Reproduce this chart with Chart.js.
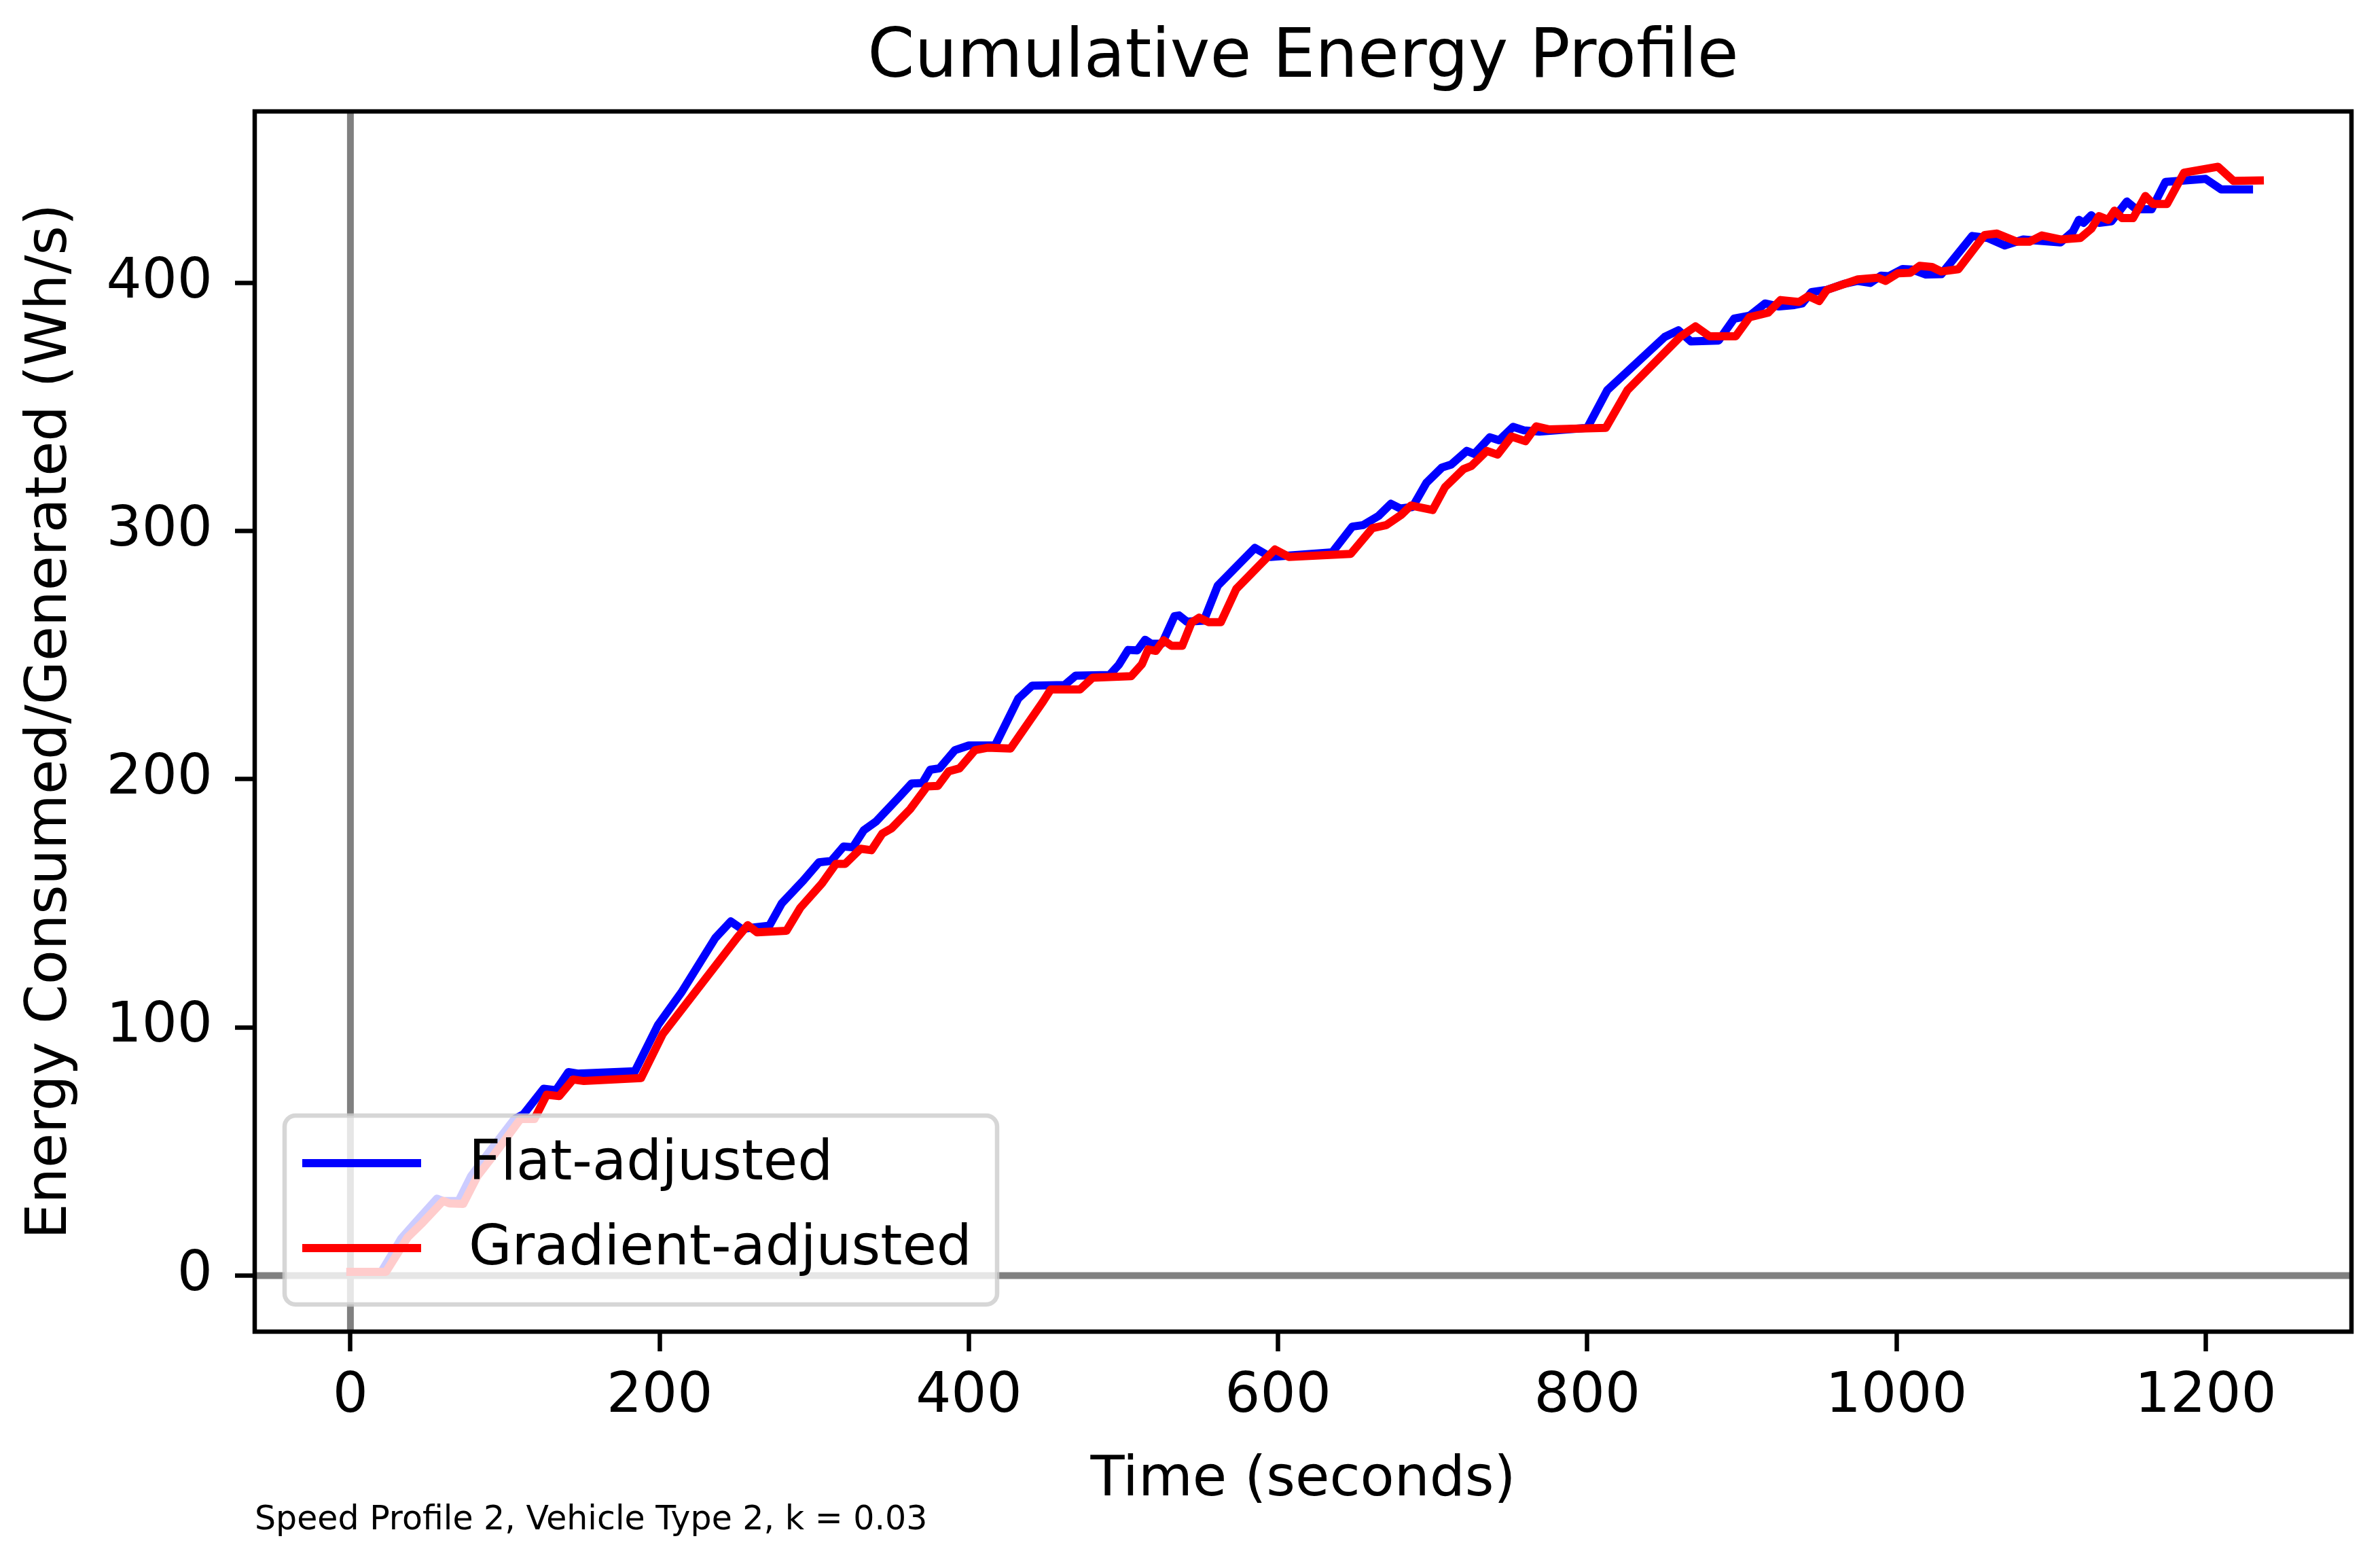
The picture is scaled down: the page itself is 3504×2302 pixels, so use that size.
<!DOCTYPE html>
<html>
<head>
<meta charset="utf-8">
<title>Cumulative Energy Profile</title>
<script src="https://cdn.jsdelivr.net/npm/chart.js@4.4.1/dist/chart.umd.min.js"></script>
<style>
  html, body { margin: 0; padding: 0; background: #fff; }
  canvas { display: block; }
</style>
</head>
<body>
<canvas id="chart" width="3504" height="2302"></canvas>
<script>
// values
const flatTime = [0, 20, 33, 43, 56, 60, 70, 78, 90, 106, 112, 125, 133, 141, 147, 184, 199, 214, 236, 246,
  253, 271, 279, 293, 303, 311, 319, 325, 332, 340, 354, 363, 370, 375, 381, 391, 400, 417, 432, 441,
  462, 469, 491, 497, 503, 509, 514, 518, 525, 533, 536, 541, 552, 561, 585, 595, 635, 648, 655, 665,
  673, 679, 687, 696, 706, 712, 722, 727, 737, 743, 752, 759, 769, 800, 813, 850, 859, 867, 885, 895,
  905, 915, 924, 934, 939, 945, 955, 966, 975, 983, 990, 995, 1004, 1010, 1019, 1029, 1049, 1059, 1070, 1082,
  1106, 1114, 1118, 1121, 1126, 1131, 1139, 1149, 1155, 1165, 1174, 1200, 1210, 1228];
const flatEnergy = [1.5, 1.5, 15, 22, 31, 30, 30, 40, 50, 63, 65, 75.3, 74.7, 82, 81.4, 82.3, 101, 114, 136, 142.7,
  139.7, 141, 150, 159.2, 166.5, 167.1, 172.9, 172.6, 179.4, 183, 192.2, 198.3, 198.5, 203.8, 204.4, 211.7, 213.6, 213.6, 232.5, 237.7,
  238, 241.7, 242, 246.1, 252.1, 251.9, 256.2, 254.6, 254.7, 265.7, 266, 263.5, 263.9, 278, 293.2, 289.6, 291.4, 301.8, 302.4, 306.1,
  311, 309.1, 309.7, 319.5, 325.6, 326.8, 332.3, 331.1, 337.8, 336.6, 342, 340.6, 340.1, 341.6, 356.8, 378.2, 380.9, 376.4, 376.8, 385.6,
  386.8, 391.7, 390.5, 391.1, 391.7, 396.3, 397.2, 399.6, 400.8, 400, 402.9, 402.7, 405.6, 405.4, 403.4, 403.5, 418.9, 418.1, 415.1, 417.5,
  416.3, 420.6, 425.4, 424.2, 427.3, 424.2, 424.8, 432.8, 429.7, 429.7, 440.7, 441.9, 437.7, 437.7];

const gradTime = [0, 23, 37, 47, 60, 64, 73, 82, 94, 110, 119, 127, 135, 144, 151, 188, 202, 250, 257, 263,
  282, 291, 305, 314, 320, 330, 337, 344, 350, 362, 373, 380, 387, 394, 404, 412, 427, 448, 453, 472,
  480, 505, 512, 516, 521, 526, 531, 538, 544, 549, 555, 563, 573, 598, 607, 647, 661, 670, 680, 686,
  700, 708, 720, 725, 735, 742, 751, 760, 767, 775, 812, 826, 860, 870, 879, 896, 905, 917, 925, 937,
  943, 950, 955, 975, 988, 993, 1001, 1009, 1015, 1023, 1029, 1040, 1057, 1065, 1078, 1086, 1094, 1106, 1119, 1126,
  1131, 1137, 1141, 1146, 1153, 1161, 1166, 1175, 1186, 1208, 1218, 1235];
const gradEnergy = [1.5, 1.5, 15.4, 21.5, 30.1, 29.1, 28.9, 39.9, 49.6, 63.1, 63.1, 72.9, 72.3, 79, 78.4, 79.6, 97.3, 136, 141.2, 138.3,
  138.9, 148.2, 158, 165.9, 165.9, 172, 171.4, 178.1, 180.2, 187.9, 197.1, 197.3, 203.2, 204.4, 211.7, 212.7, 212.4, 231.3, 236.2, 236.2,
  240.9, 241.5, 246.4, 252.3, 251.7, 256, 253.8, 253.8, 263.1, 265.1, 263.3, 263.3, 276.7, 292.6, 289.6, 290.8, 301.2, 302.4, 306.7, 310.3,
  308.5, 317.7, 325, 326.2, 332.3, 330.8, 338.1, 336.2, 342.2, 341, 341.6, 356.8, 378.2, 382.5, 378.5, 378.5, 386.2, 388, 393.1, 392.3,
  394.7, 392.7, 397.2, 401.4, 402.1, 400.8, 403.9, 404.1, 406.9, 406.4, 404.6, 405.5, 419.3, 419.9, 416.6, 416.6, 419.1, 417.5, 418.1, 421.8,
  426.9, 425.4, 429.1, 426.1, 426.1, 435, 431.8, 431.8, 444.4, 446.8, 441.1, 441.3];

const seriesNames = ["Flat-adjusted", "Gradient-adjusted"];
const xTicks = [0, 200, 400, 600, 800, 1000, 1200];
const yTicks = [0, 100, 200, 300, 400];
const footnote = "Speed Profile 2, Vehicle Type 2, k = 0.03";

const FONT = "'DejaVu Sans', sans-serif";

const toPoints = (xs, ys) => xs.map((x, i) => ({ x, y: ys[i] }));

// gray reference lines at x = 0 and y = 0
const refLines = {
  id: "refLines",
  beforeDatasetsDraw(chart) {
    const { ctx, chartArea: a, scales } = chart;
    const x0 = scales.x.getPixelForValue(0);
    const y0 = scales.y.getPixelForValue(0);
    ctx.save();
    ctx.beginPath();
    ctx.rect(a.left, a.top, a.width, a.height);
    ctx.clip();
    ctx.strokeStyle = "#808080";
    ctx.lineWidth = 10;
    ctx.beginPath();
    ctx.moveTo(x0, a.top);
    ctx.lineTo(x0, a.bottom);
    ctx.moveTo(a.left, y0);
    ctx.lineTo(a.right, y0);
    ctx.stroke();
    ctx.restore();
  },
};

// box around the axes, legend in the lower left, footnote under the axis
const frameAndLegend = {
  id: "frameAndLegend",
  afterDatasetsDraw(chart) {
    const { ctx, chartArea: a } = chart;
    ctx.save();
    ctx.strokeStyle = "#000";
    ctx.lineWidth = 6.5;
    ctx.strokeRect(a.left, a.top, a.width, a.height);

    const bw = 1049, bh = 278;
    const bx = a.left + 44, by = a.bottom - 40 - bh;
    ctx.beginPath();
    ctx.roundRect(bx, by, bw, bh, 16);
    ctx.fillStyle = "rgba(255,255,255,0.8)";
    ctx.fill();
    ctx.strokeStyle = "rgba(204,204,204,0.8)";
    ctx.lineWidth = 6.5;
    ctx.stroke();

    chart.data.datasets.forEach((ds, i) => {
      const cy = by + 70 + i * 125;
      ctx.strokeStyle = ds.borderColor;
      ctx.lineWidth = 12;
      ctx.beginPath();
      ctx.moveTo(bx + 26, cy);
      ctx.lineTo(bx + 201, cy);
      ctx.stroke();
      ctx.fillStyle = "#000";
      ctx.font = `82px ${FONT}`;
      ctx.textAlign = "left";
      ctx.textBaseline = "middle";
      ctx.fillText(ds.label, bx + 271, cy + 3);
    });
    ctx.restore();
  },
  afterDraw(chart) {
    const { ctx, chartArea: a } = chart;
    ctx.save();
    ctx.fillStyle = "#000";
    ctx.font = `49px ${FONT}`;
    ctx.textAlign = "left";
    ctx.textBaseline = "middle";
    ctx.fillText(footnote, a.left, 2238);
    ctx.restore();
  },
};

const tickGrid = {
  drawOnChartArea: false,
  drawTicks: true,
  tickLength: 29,
  tickWidth: 6.5,
  tickColor: "#000",
  color: "#000",
};

new Chart(document.getElementById("chart"), {
  type: "line",
  data: {
    datasets: [
      {
        label: seriesNames[0],
        data: toPoints(flatTime, flatEnergy),
        borderColor: "#0000ff",
        order: 1,
      },
      {
        label: seriesNames[1],
        data: toPoints(gradTime, gradEnergy),
        borderColor: "#ff0000",
        order: 0,
      },
    ],
  },
  options: {
    responsive: false,
    animation: false,
    devicePixelRatio: 1,
    layout: { padding: { left: 0, right: 42, top: 0, bottom: 40 } },
    elements: {
      point: { radius: 0 },
      line: { borderWidth: 12, tension: 0, borderJoinStyle: "round", borderCapStyle: "square", fill: false },
    },
    scales: {
      x: {
        type: "linear",
        min: -61.9,
        max: 1294.3,
        afterBuildTicks: (axis) => { axis.ticks = xTicks.map((v) => ({ value: v })); },
        afterFit: (axis) => { axis.height = 302; },
        grid: tickGrid,
        border: { display: false },
        ticks: {
          autoSkip: false,
          maxRotation: 0,
          padding: 19,
          color: "#000",
          font: { family: FONT, size: 82 },
          callback: (v) => String(v),
        },
        title: {
          display: true,
          text: "Time (seconds)",
          color: "#000",
          font: { family: FONT, size: 82 },
          padding: { top: 0, bottom: 33 },
        },
      },
      y: {
        type: "linear",
        min: -22.6,
        max: 469.1,
        afterBuildTicks: (axis) => { axis.ticks = yTicks.map((v) => ({ value: v })); },
        afterFit: (axis) => { axis.width = 375; },
        grid: tickGrid,
        border: { display: false },
        ticks: {
          autoSkip: false,
          padding: 33,
          color: "#000",
          font: { family: FONT, size: 82 },
          callback: (v) => String(v),
        },
        title: {
          display: true,
          text: "Energy Consumed/Generated (Wh/s)",
          color: "#000",
          font: { family: FONT, size: 83 },
          padding: { top: 26, bottom: 0 },
        },
      },
    },
    plugins: {
      legend: { display: false },
      tooltip: { enabled: false },
      title: {
        display: true,
        fullSize: false,
        text: "Cumulative Energy Profile",
        color: "#000",
        font: { family: FONT, size: 99, weight: "normal" },
        padding: { top: 28, bottom: 17.2 },
      },
    },
  },
  plugins: [refLines, frameAndLegend],
});
</script>
</body>
</html>
